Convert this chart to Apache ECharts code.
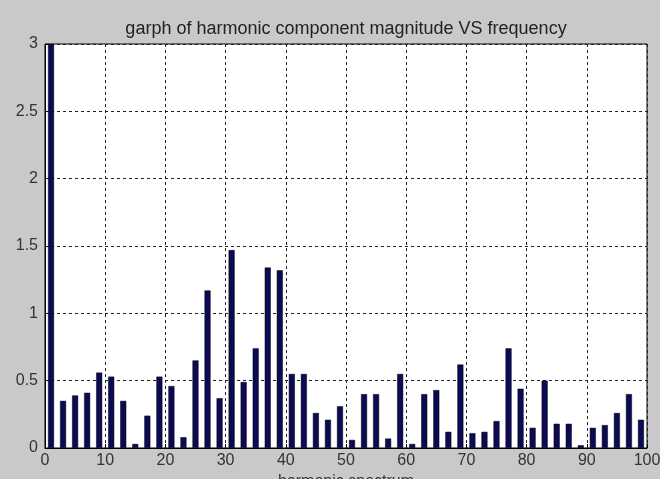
<!DOCTYPE html>
<html>
<head>
<meta charset="utf-8">
<script src="https://cdn.jsdelivr.net/npm/echarts@6/dist/echarts.min.js"></script>
<style>
  html, body { margin: 0; padding: 0; background: #c9c9c9; }
  #chart { width: 660px; height: 479px; }
</style>
</head>
<body>
<div id="chart"></div>
<script>
// harmonic order (odd harmonics only)
const harmonics = [1, 3, 5, 7, 9, 11, 13, 15, 17, 19,
  21, 23, 25, 27, 29, 31, 33, 35, 37, 39,
  41, 43, 45, 47, 49, 51, 53, 55, 57, 59,
  61, 63, 65, 67, 69, 71, 73, 75, 77, 79,
  81, 83, 85, 87, 89, 91, 93, 95, 97, 99];
// magnitude (fundamental is clipped at 3)
const magnitudes = [3.0, 0.35, 0.39, 0.41, 0.56, 0.53, 0.35, 0.03, 0.24, 0.53,
  0.46, 0.08, 0.65, 1.17, 0.37, 1.47, 0.49, 0.74, 1.34, 1.32,
  0.55, 0.55, 0.26, 0.21, 0.31, 0.06, 0.40, 0.40, 0.07, 0.55,
  0.03, 0.40, 0.43, 0.12, 0.62, 0.11, 0.12, 0.20, 0.74, 0.44,
  0.15, 0.50, 0.18, 0.18, 0.02, 0.15, 0.17, 0.26, 0.40, 0.21];
const xTicks = [0, 10, 20, 30, 40, 50, 60, 70, 80, 90, 100];
const yTicks = [0, 0.5, 1, 1.5, 2, 2.5, 3];

const chart = echarts.init(document.getElementById('chart'));

const gridLine = { show: true, lineStyle: { color: '#222', type: [3, 3], width: 1 } };
const labelStyle = { color: '#333', fontSize: 16, fontFamily: 'Liberation Sans, Arial' };

let option = {
  backgroundColor: '#c9c9c9',
  animation: false,
  title: {
    text: 'garph of harmonic component magnitude VS frequency',
    left: 346,
    textAlign: 'center',
    top: 18,
    padding: 0,
    textStyle: { color: '#222', fontSize: 18, lineHeight: 22, fontWeight: 'normal', fontFamily: 'Liberation Sans, Arial' }
  },
  grid: {
    left: 45, right: 13, top: 44, bottom: 31,
    outerBoundsMode: 'none',
    containLabel: false,
    show: true, backgroundColor: '#fff', borderColor: '#000', borderWidth: 1
  },
  xAxis: {
    type: 'value',
    min: xTicks[0], max: xTicks[xTicks.length - 1], interval: 10,
    name: 'harmonic spectrum',
    nameLocation: 'middle',
    nameGap: 23,
    nameTextStyle: Object.assign({ verticalAlign: 'top' }, labelStyle),
    axisLine: { show: true, lineStyle: { color: '#000' } },
    axisTick: { show: true, inside: true, length: 4, lineStyle: { color: '#000' } },
    axisLabel: Object.assign({ margin: 5 }, labelStyle),
    splitLine: gridLine
  },
  yAxis: {
    type: 'value',
    min: yTicks[0], max: yTicks[yTicks.length - 1], interval: 0.5,
    axisLine: { show: true, lineStyle: { color: '#000' } },
    axisTick: { show: true, inside: true, length: 4, lineStyle: { color: '#000' } },
    axisLabel: Object.assign({ margin: 7 }, labelStyle),
    splitLine: gridLine
  },
  series: [{
    type: 'bar',
    data: harmonics.map((h, i) => [h, magnitudes[i]]),
    barWidth: 6,
    clip: true,
    itemStyle: { color: '#0a0a55', borderColor: '#000', borderWidth: 0.5 }
  }]
};

chart.setOption(option);
</script>
</body>
</html>
